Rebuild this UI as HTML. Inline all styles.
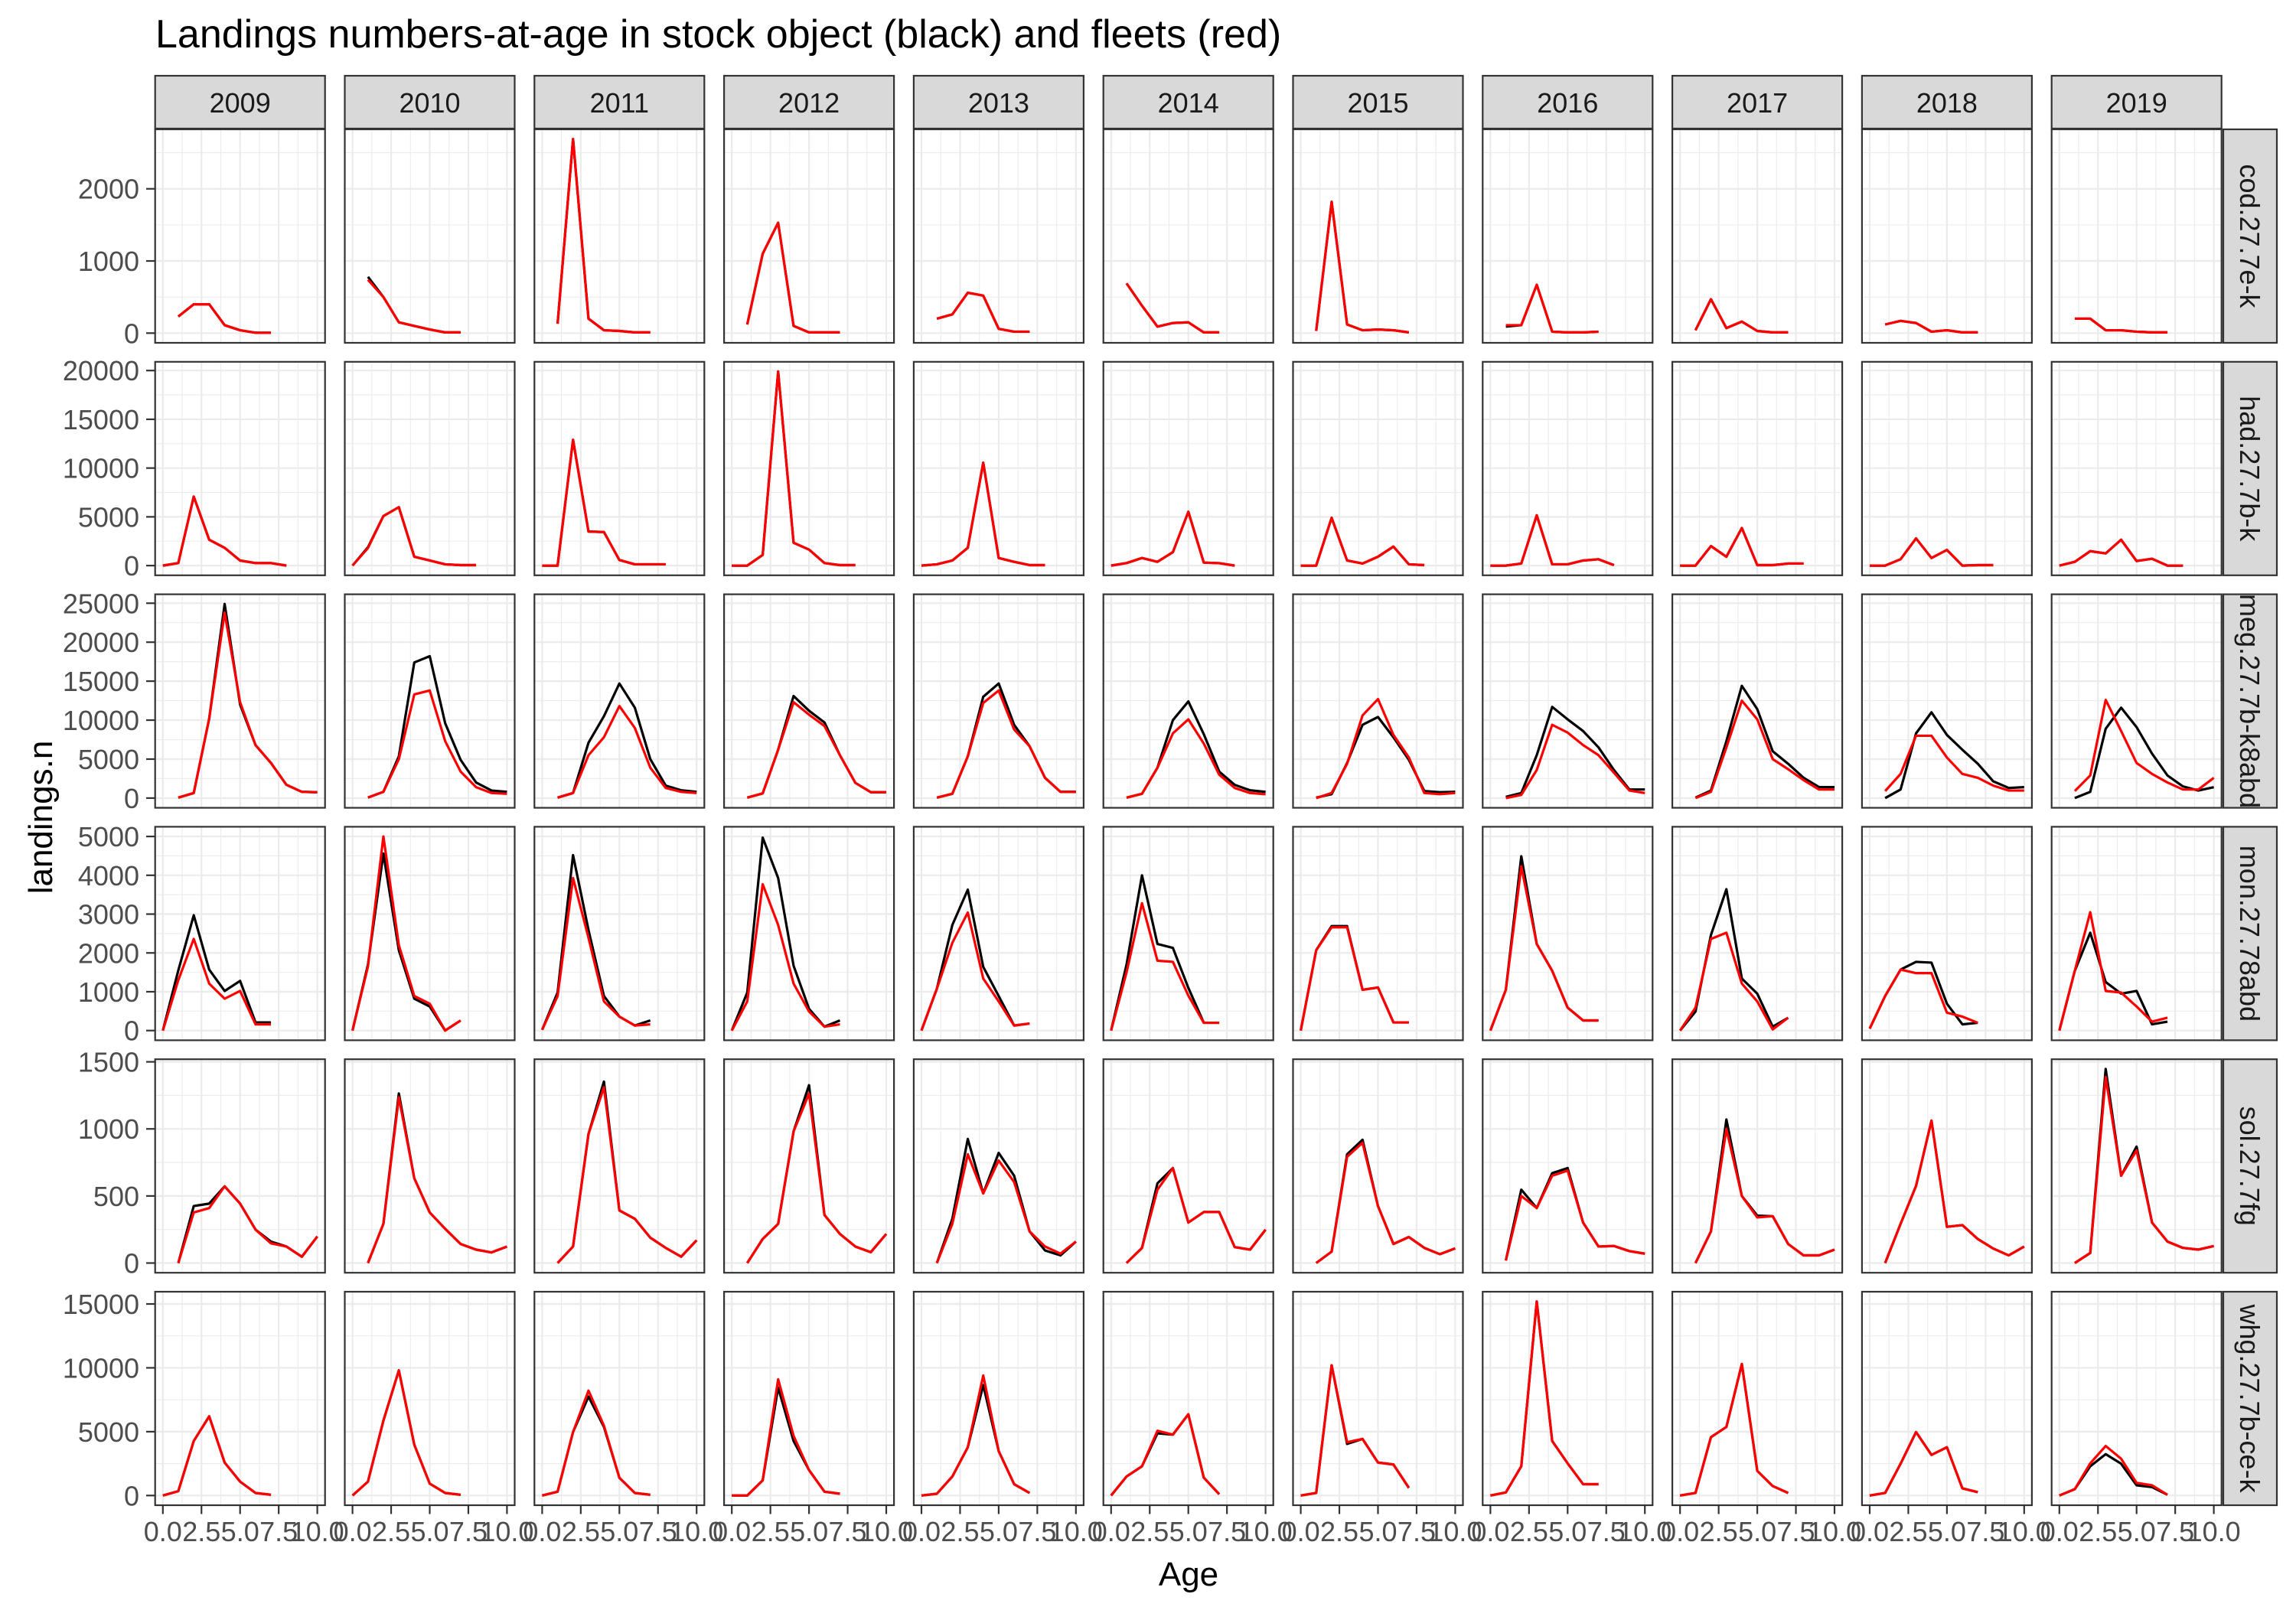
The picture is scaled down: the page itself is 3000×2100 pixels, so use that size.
<!DOCTYPE html>
<html>
<head>
<meta charset="utf-8">
<style>
html,body{margin:0;padding:0;background:#fff;}
svg{display:block;font-family:"Liberation Sans",Arial,sans-serif;}
</style>
</head>
<body>
<svg id="chart" width="3000" height="2100" viewBox="0 0 3000 2100" xmlns="http://www.w3.org/2000/svg">
<rect x="0" y="0" width="3000" height="2100" fill="#ffffff"/>
<text x="203" y="62" font-size="52" fill="#000">Landings numbers-at-age in stock object (black) and fleets (red)</text>
<text x="1553" y="2072" font-size="44" fill="#000" text-anchor="middle">Age</text>
<text x="0" y="0" font-size="44" fill="#000" text-anchor="middle" transform="translate(68,1068) rotate(-90)">landings.n</text>
</svg>
<script>
const n = null;
const years = ["2009","2010","2011","2012","2013","2014","2015","2016","2017","2018","2019"];
const stockNames = ["cod.27.7e-k","had.27.7b-k","meg.27.7b-k8abd","mon.27.78abd","sol.27.7fg","whg.27.7b-ce-k"];
const ages = [0,1,2,3,4,5,6,7,8,9,10];
const xTicks = [0,2.5,5,7.5,10];
const xTickLabels = ["0.0","2.5","5.0","7.5","10.0"];
const xMinor = [1.25,3.75,6.25,8.75];

const codTicks = [0,1000,2000];
const hadTicks = [0,5000,10000,15000,20000];
const megTicks = [0,5000,10000,15000,20000,25000];
const monTicks = [0,1000,2000,3000,4000,5000];
const solTicks = [0,500,1000,1500];
const whgTicks = [0,5000,10000,15000];

const codStock = [
 [n,230,400,400,110,40,5,5],
 [n,780,500,150,100,50,10,10],
 [n,130,2690,200,40,30,10,10],
 [n,120,1100,1530,100,10,10,10],
 [n,200,260,560,520,60,20,20],
 [n,690,380,90,140,150,10,10],
 [n,30,1820,120,40,50,40,10],
 [n,90,110,670,20,10,10,20],
 [n,40,470,70,160,30,10,10],
 [n,120,170,140,20,40,10,10],
 [n,200,200,40,40,20,10,10]
];
const codFleet = [
 [n,230,400,400,110,40,5,5],
 [n,740,500,150,100,50,10,10],
 [n,130,2690,200,40,30,10,10],
 [n,120,1100,1530,100,10,10,10],
 [n,200,260,560,520,60,20,20],
 [n,690,380,90,140,150,10,10],
 [n,30,1820,120,40,50,40,10],
 [n,110,110,670,20,10,10,20],
 [n,40,470,70,160,30,10,10],
 [n,120,170,140,20,40,10,10],
 [n,200,200,40,40,20,10,10]
];
const hadStock = [
 [0,260,7080,2650,1820,520,260,260,0],
 [0,1880,5080,5990,910,520,130,50,50],
 [0,0,12900,3490,3440,570,130,130,130],
 [0,0,1090,19900,2340,1640,260,50,50],
 [0,130,520,1820,10550,780,390,50,50],
 [0,260,780,390,1380,5520,310,250,0],
 [0,0,4900,520,210,910,1950,130,50],
 [0,0,210,5160,130,130,520,650,50],
 [0,0,2000,910,3850,50,50,210,210],
 [0,0,650,2790,780,1610,0,50,50],
 [0,390,1480,1250,2650,470,700,0,0]
];
const hadFleet = [
 [0,260,7080,2650,1820,520,260,260,0],
 [0,1800,5080,5990,910,520,130,50,50],
 [0,0,12900,3490,3440,570,130,130,130],
 [0,0,1090,19900,2340,1640,260,50,50],
 [0,130,520,1820,10550,780,390,50,50],
 [0,260,780,390,1380,5520,310,250,0],
 [0,0,4900,520,210,910,1950,130,50],
 [0,0,210,5160,130,130,520,650,50],
 [0,0,2000,910,3850,50,50,210,210],
 [0,0,650,2790,780,1610,0,50,50],
 [0,390,1480,1250,2650,470,700,0,0]
];
const megStock = [
 [n,60,650,10200,24900,12000,6800,4500,1700,800,750],
 [n,60,800,5350,17400,18200,9600,4900,2000,970,800],
 [n,60,650,7100,10500,14700,11600,5000,1600,1000,800],
 [n,60,600,6200,13100,11200,9700,5500,1950,750,750],
 [n,60,550,5350,13000,14700,9400,6650,2600,800,800],
 [n,60,550,3900,10000,12400,8200,3400,1700,1000,800],
 [n,60,500,4500,9400,10400,7800,4900,900,750,800],
 [n,160,650,5500,11700,10100,8600,6500,3600,1100,1100],
 [n,60,970,7300,14400,11400,6000,4400,2600,1400,1400],
 [n,0,1100,8300,11000,8100,6200,4400,2150,1300,1400],
 [n,0,800,8900,11600,9100,5700,2900,1500,970,1400]
];
const megFleet = [
 [n,60,650,10200,23800,12300,6800,4500,1700,800,750],
 [n,60,800,5000,13300,13800,7300,3400,1400,650,550],
 [n,60,650,5500,7800,11800,9000,3900,1300,800,650],
 [n,60,600,6200,12300,10700,9250,5500,1950,750,750],
 [n,60,550,5350,12200,13800,8800,6650,2600,800,800],
 [n,60,550,3900,8300,10100,7000,3000,1300,650,500],
 [n,0,650,4400,10600,12700,8100,5200,650,500,650],
 [n,0,400,3600,9400,8400,6800,5500,3250,970,650],
 [n,0,800,6500,12500,10100,5000,3700,2300,1100,1100],
 [n,900,3100,8000,8000,5200,3100,2600,1600,970,970],
 [n,900,2900,12600,8600,4500,3100,2000,1100,1100,2600]
];
const monStock = [
 [0,1550,2970,1570,1020,1280,210,210],
 [0,1700,4560,2070,820,620,0,260],
 [20,980,4520,2590,890,360,130,260],
 [0,980,4970,3930,1670,560,100,260],
 [0,1080,2720,3630,1640,890,130,180],
 [0,1700,4000,2230,2130,1100,200,200],
 [0,2070,2690,2690,1050,1110,210,210],
 [0,1050,4490,2230,1540,590,260,260],
 [0,490,2460,3640,1340,950,100,330],
 [50,890,1570,1770,1750,690,160,200],
 [0,1540,2520,1250,950,1020,160,230]
];
const monFleet = [
 [0,1300,2360,1210,820,1020,160,160],
 [0,1650,5000,2200,890,690,0,260],
 [20,890,3930,2390,750,360,130,160],
 [0,750,3770,2720,1210,490,100,160],
 [0,1080,2260,3040,1340,750,130,180],
 [0,1500,3280,1800,1770,900,200,200],
 [0,2070,2660,2660,1050,1110,210,210],
 [0,1050,4230,2230,1540,590,260,260],
 [0,590,2360,2520,1210,750,30,330],
 [50,890,1570,1480,1480,460,360,200],
 [0,1540,3050,1020,980,620,230,330]
];
const solStock = [
 [n,0,425,443,572,443,249,160,123,47,198],
 [n,0,292,1264,632,377,255,142,100,79,123],
 [n,0,123,962,1353,392,330,189,113,47,170],
 [n,0,179,292,981,1326,358,217,123,81,217],
 [n,0,330,925,519,821,651,236,94,57,160],
 [n,0,113,594,708,302,380,380,119,100,249],
 [n,0,85,811,919,425,142,194,113,66,109],
 [n,19,547,410,670,708,302,123,127,89,70],
 [n,0,236,1070,500,353,349,142,57,57,100],
 [n,0,292,575,1062,270,283,179,108,57,123],
 [n,0,75,1447,651,868,302,160,113,100,127]
];
const solFleet = [
 [n,0,377,410,572,443,249,147,123,47,198],
 [n,0,292,1236,632,377,255,142,100,79,123],
 [n,0,123,962,1311,392,330,189,113,47,170],
 [n,0,179,292,981,1264,358,217,123,81,217],
 [n,0,292,811,519,764,604,236,123,70,160],
 [n,0,113,547,708,302,380,380,119,100,249],
 [n,0,85,792,896,425,142,194,113,66,109],
 [n,19,500,410,651,689,302,123,127,89,70],
 [n,0,236,1000,500,340,349,142,57,57,100],
 [n,0,292,575,1062,270,283,179,108,57,123],
 [n,0,75,1387,651,840,302,160,113,100,127]
];
const whgStock = [
 [0,340,4270,6200,2580,1090,200,60],
 [0,1090,5860,9800,3980,930,200,60],
 [0,300,4970,7750,5370,1390,200,60],
 [0,0,1190,8450,4270,1990,300,140],
 [0,140,1490,3780,8650,3480,890,200],
 [0,1490,2290,4870,4770,6360,1400,100],
 [0,200,10200,4040,4430,2580,2430,600],
 [0,240,2290,15200,4270,2520,890,890],
 [0,200,4570,5370,10300,1930,740,200],
 [0,200,2490,4970,3180,3780,560,260],
 [0,500,2290,3240,2490,800,660,60]
];
const whgFleet = [
 [0,340,4270,6200,2580,1090,200,60],
 [0,1090,5860,9800,3980,930,200,60],
 [0,300,4970,8210,5470,1390,200,60],
 [0,0,1190,9100,4670,1990,300,140],
 [0,140,1490,3780,9400,3480,890,200],
 [0,1490,2290,5070,4770,6360,1400,100],
 [0,200,10200,4170,4430,2580,2430,600],
 [0,240,2290,15200,4270,2520,890,890],
 [0,200,4570,5370,10300,1930,740,200],
 [0,200,2490,4970,3180,3780,560,260],
 [0,500,2520,3880,2880,990,800,60]
];

const stockSeries = [codStock, hadStock, megStock, monStock, solStock, whgStock];
const fleetSeries = [codFleet, hadFleet, megFleet, monFleet, solFleet, whgFleet];
const rowTicks = [codTicks, hadTicks, megTicks, monTicks, solTicks, whgTicks];

(function(){
  const svg = document.getElementById('chart');
  const NS = 'http://www.w3.org/2000/svg';
  const L0 = 202.7, PITCH_X = 247.8, PW = 222;
  const T0 = 169, PITCH_Y = 303.8, PH = 279;
  const GRID = '#ebebeb', DARK = '#333333';

  function el(tag, attrs, parent){
    const e = document.createElementNS(NS, tag);
    for (const k in attrs) e.setAttribute(k, attrs[k]);
    (parent || svg).appendChild(e);
    return e;
  }
  function xScale(col, a){
    const left = L0 + col*PITCH_X;
    return left + (a + 0.5) / 11 * PW;
  }
  function rowRange(r){
    let mx = 0;
    [stockSeries[r], fleetSeries[r]].forEach(function(s){
      s.forEach(function(arr){ arr.forEach(function(v){ if (v !== null && v > mx) mx = v; }); });
    });
    return [-0.05*mx, mx*1.05];
  }
  function yScale(r, v, rng){
    const top = T0 + r*PITCH_Y;
    return top + PH - (v - rng[0]) / (rng[1] - rng[0]) * PH;
  }
  function pathFor(r, c, arr, rng){
    let d = '';
    arr.forEach(function(v, i){
      if (v === null || v === undefined) return;
      d += (d === '' ? 'M' : 'L') + xScale(c, ages[i]).toFixed(2) + ',' + yScale(r, v, rng).toFixed(2);
    });
    return d;
  }

  years.forEach(function(y, c){
    const left = L0 + c*PITCH_X;
    const g = el('g', {});
    
    
    el('rect', {x:left, y:99, width:PW, height:69, fill:'#d9d9d9', stroke:DARK, 'stroke-width':2.2}, g);
    const t = el('text', {x:left+PW/2, y:147, 'font-size':36, fill:'#1a1a1a', 'text-anchor':'middle'}, g);
    t.textContent = y;
    
    
  });

  stockNames.forEach(function(sn, r){
    const top = T0 + r*PITCH_Y;
    const rng = rowRange(r);
    const ticks = rowTicks[r];
    const step = ticks[1] - ticks[0];
    const minors = [];
    for (let v = ticks[0] - step/2; v <= rng[1]; v += step){ if (v >= rng[0]) minors.push(v); }

    const sg = el('g', {});
    
    
    el('rect', {x:2905, y:top, width:70, height:PH, fill:'#d9d9d9', stroke:DARK, 'stroke-width':2.2}, sg);
    const st = el('text', {x:0, y:0, 'font-size':36, fill:'#1a1a1a', 'text-anchor':'middle', transform:'translate(2927,' + (top+PH/2) + ') rotate(90)'}, sg);
    st.textContent = sn;
    
    

    ticks.forEach(function(v){
      const y = yScale(r, v, rng);
      const tm = el('line', {x1:191, x2:202.7, y1:y, y2:y, stroke:DARK, 'stroke-width':2.2});
      
      
      const tl = el('text', {x:182, y:y+13, 'font-size':36, fill:'#4d4d4d', 'text-anchor':'end'});
      tl.textContent = String(v);
      
      
    });

    years.forEach(function(yr, c){
      const left = L0 + c*PITCH_X;
      const pg = el('g', {});
      
      
      el('rect', {x:left, y:top, width:PW, height:PH, fill:'#ffffff'}, pg);
      minors.forEach(function(v){
        const y = yScale(r, v, rng);
        el('line', {x1:left, x2:left+PW, y1:y, y2:y, stroke:GRID, 'stroke-width':1.1}, pg);
      });
      xMinor.forEach(function(a){
        const x = xScale(c, a);
        el('line', {x1:x, x2:x, y1:top, y2:top+PH, stroke:GRID, 'stroke-width':1.1}, pg);
      });
      ticks.forEach(function(v){
        const y = yScale(r, v, rng);
        el('line', {x1:left, x2:left+PW, y1:y, y2:y, stroke:GRID, 'stroke-width':2.2}, pg);
      });
      xTicks.forEach(function(a){
        const x = xScale(c, a);
        el('line', {x1:x, x2:x, y1:top, y2:top+PH, stroke:GRID, 'stroke-width':2.2}, pg);
      });
      const bl = el('path', {d:pathFor(r, c, stockSeries[r][c], rng), fill:'none', stroke:'#000000', 'stroke-width':3.2, 'stroke-linejoin':'round'}, pg);
      
      
      const rl = el('path', {d:pathFor(r, c, fleetSeries[r][c], rng), fill:'none', stroke:'#ff0000', 'stroke-width':3.2, 'stroke-linejoin':'round'}, pg);
      
      
      el('rect', {x:left, y:top, width:PW, height:PH, fill:'none', stroke:DARK, 'stroke-width':2.2}, pg);

      if (r === stockNames.length - 1){
        xTicks.forEach(function(a, k){
          const x = xScale(c, a);
          const xm = el('line', {x1:x, x2:x, y1:top+PH, y2:top+PH+11.5, stroke:DARK, 'stroke-width':2.2});
          
          
          const xl = el('text', {x:x, y:top+PH+47, 'font-size':36, fill:'#4d4d4d', 'text-anchor':'middle'});
          xl.textContent = xTickLabels[k];
          
          
        });
      }
    });
  });
})();
</script>
</body>
</html>
